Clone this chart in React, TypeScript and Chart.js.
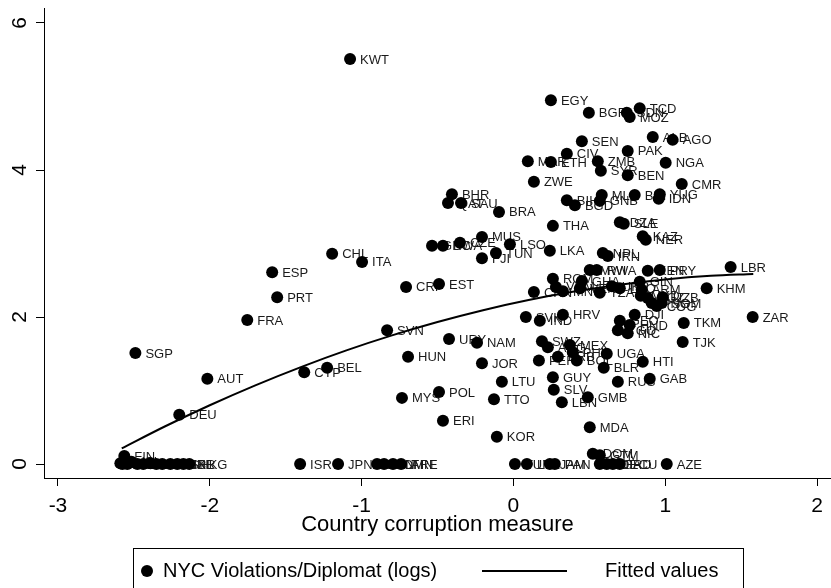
import React, { useEffect, useRef } from "react";
import { Chart, registerables } from "chart.js";

Chart.register(...registerables);

const FONT = "'Liberation Sans', Arial, Helvetica, sans-serif";

const countryCodes = [
  "KWT","EGY","BGR","SDN","TCD","MOZ","SEN","ALB","AGO","PAK",
  "CIV","MAR","ETH","ZMB","SYR","BEN","NGA","ZWE","CMR","BIH",
  "BGD","MLI","GNB","BDI","YUG","IDN","BHR","QAT","SAU","BRA",
  "THA","DZA","SLE","KAZ","NER","MUS","GRC","BWA","CZE","LSO",
  "TUN","FJI","LKA","NPL","IRN","MWI","RWA","KEN","PRY","LBR",
  "KHM","ZAR","CHL","ITA","ESP","PRT","FRA","CRI","EST","SGP",
  "AUT","CYP","BEL","DEU","SVN","URY","NAM","HUN","JOR","LTU",
  "POL","MYS","TTO","ERI","KOR","SVK","IND","HRV","SWZ","ARG",
  "MEX","PHL","BOL","BRB","PER","UGA","BLR","HTI","GUY","RUS",
  "GAB","SLV","GMB","LBN","MDA","TKM","TJK","DJI","GEO","HND",
  "NIC","TGO","ROM","GHA","CHN","VNM","MNG","VEN","TZA","UKR",
  "LAO","GIN","ARM","UZB","COG","KGZ","MKD","PNG","SOM",
  "FIN","DNK","SWE","NZL","ISL","CHE","NOR","NLD","CAN","AUS",
  "LUX","GBR","IRL","HKG","ISR","JPN","BRN","MLT","OMN","ARE",
  "TUR","LVA","JAM","PAN","DOM","GTM","COL","BFA","GRD","ECU","AZE"
];

const corruption = [
  -1.076, 0.247, 0.497, 0.747, 0.832, 0.766, 0.451, 0.918, 1.049, 0.753,
  0.352, 0.095, 0.247, 0.556, 0.576, 0.753, 1.003, 0.135, 1.109, 0.352,
  0.405, 0.582, 0.569, 0.799, 0.964, 0.957, -0.405, -0.431, -0.345, -0.095,
  0.260, 0.701, 0.727, 0.852, 0.872, -0.207, -0.536, -0.464, -0.352, -0.023,
  -0.115, -0.207, 0.240, 0.589, 0.622, 0.503, 0.549, 0.885, 0.964, 1.431,
  1.273, 1.576, -1.194, -0.997, -1.589, -1.556, -1.753, -0.707, -0.490, -2.490,
  -2.016, -1.378, -1.227, -2.201, -0.832, -0.424, -0.240, -0.694, -0.207, -0.076,
  -0.490, -0.734, -0.128, -0.464, -0.109, 0.082, 0.174, 0.326, 0.188, 0.227,
  0.372, 0.391, 0.418, 0.293, 0.168, 0.615, 0.595, 0.852, 0.260, 0.688,
  0.898, 0.266, 0.490, 0.319, 0.503, 1.122, 1.115, 0.799, 0.701, 0.766,
  0.753, 0.688, 0.260, 0.451, 0.135, 0.280, 0.326, 0.438, 0.569, 0.648,
  0.701, 0.832, 0.845, 0.984, 0.944, 0.885, 0.839, 0.911, 0.977,
  -2.563, -2.589, -2.576, -2.543, -2.516, -2.477, -2.438, -2.391, -2.352, -2.313,
  -2.260, -2.214, -2.174, -2.135, -1.405, -1.155, -0.898, -0.852, -0.793, -0.740,
  0.010, 0.089, 0.240, 0.273, 0.523, 0.569, 0.569, 0.615, 0.655, 0.701, 1.010
];

const violations = [
  5.51, 4.95, 4.78, 4.78, 4.84, 4.72, 4.39, 4.45, 4.41, 4.26,
  4.22, 4.12, 4.11, 4.12, 3.99, 3.93, 4.10, 3.84, 3.81, 3.59,
  3.52, 3.66, 3.58, 3.66, 3.67, 3.61, 3.67, 3.55, 3.55, 3.43,
  3.24, 3.29, 3.27, 3.10, 3.05, 3.09, 2.97, 2.97, 3.01, 2.99,
  2.87, 2.80, 2.90, 2.87, 2.83, 2.64, 2.64, 2.63, 2.64, 2.68,
  2.39, 2.00, 2.86, 2.75, 2.61, 2.27, 1.96, 2.41, 2.45, 1.51,
  1.16, 1.25, 1.31, 0.67, 1.82, 1.70, 1.65, 1.46, 1.37, 1.12,
  0.98, 0.90, 0.88, 0.59, 0.37, 2.00, 1.95, 2.03, 1.67, 1.59,
  1.62, 1.52, 1.41, 1.46, 1.41, 1.50, 1.31, 1.39, 1.18, 1.12,
  1.16, 1.01, 0.91, 0.84, 0.50, 1.92, 1.66, 2.03, 1.95, 1.89,
  1.78, 1.82, 2.52, 2.49, 2.34, 2.41, 2.35, 2.39, 2.33, 2.42,
  2.39, 2.48, 2.37, 2.27, 2.15, 2.26, 2.29, 2.19, 2.19,
  0.11, 0.01, 0.00, 0.00, 0.03, 0.00, 0.00, 0.01, 0.00, 0.00,
  0.00, 0.00, 0.00, 0.00, 0.00, 0.00, 0.00, 0.00, 0.00, 0.00,
  0.00, 0.00, 0.00, 0.00, 0.14, 0.12, 0.00, 0.00, 0.00, 0.00, 0.00
];

const fittedX = [-2.58, -2.3, -2.0, -1.7, -1.4, -1.1, -0.8, -0.5, -0.2, 0.1, 0.4, 0.7, 1.0, 1.3, 1.58];
const fittedY = [0.213, 0.507, 0.800, 1.071, 1.319, 1.546, 1.750, 1.932, 2.093, 2.231, 2.346, 2.440, 2.511, 2.560, 2.585];

const xTickValues = [-3, -2, -1, 0, 1, 2];
const yTickValues = [0, 2, 4, 6];

const scatterLabel = "NYC Violations/Diplomat (logs)";
const fitLabel = "Fitted values";
const xTitle = "Country corruption measure";

export default function App() {
  const canvasRef = useRef<HTMLCanvasElement | null>(null);

  useEffect(() => {
    const canvas = canvasRef.current;
    if (!canvas) return;

    const pointLabels = {
      id: "pointLabels",
      beforeDatasetsDraw(chart: any) {
        const meta = chart.getDatasetMeta(0);
        const c = chart.ctx;
        c.save();
        c.font = `13px ${FONT}`;
        c.fillStyle = "#1a1a1a";
        c.textBaseline = "middle";
        c.textAlign = "left";
        meta.data.forEach((el: any, i: number) => {
          c.fillText(countryCodes[i], el.x + 10, el.y + 1);
        });
        c.restore();
      },
    };

    const extras = {
      id: "extras",
      afterDraw(chart: any) {
        const c = chart.ctx;
        const ys = chart.scales.y;
        c.save();
        c.fillStyle = "#000";
        c.font = `21px ${FONT}`;
        c.textAlign = "center";
        c.textBaseline = "middle";
        ys.ticks.forEach((t: any) => {
          const py = ys.getPixelForValue(t.value);
          c.save();
          c.translate(20, py);
          c.rotate(-Math.PI / 2);
          c.fillText(String(t.value), 0, 0);
          c.restore();
        });
        // legend
        c.strokeStyle = "#000";
        c.lineWidth = 1;
        c.strokeRect(133.5, 548.5, 610, 60);
        c.beginPath();
        c.arc(147, 571, 6, 0, Math.PI * 2);
        c.fill();
        c.font = `20px ${FONT}`;
        c.textAlign = "left";
        c.fillText(chart.data.datasets[0].label, 163, 571);
        c.beginPath();
        c.lineWidth = 2;
        c.moveTo(482, 571);
        c.lineTo(567, 571);
        c.stroke();
        c.fillText(chart.data.datasets[1].label, 605, 571);
        c.restore();
      },
    };

    const chart = new Chart(canvas, {
      type: "scatter",
      data: {
        datasets: [
          {
            label: scatterLabel,
            data: corruption.map((x, i) => ({ x, y: violations[i] })),
            backgroundColor: "#000",
            borderColor: "#000",
            borderWidth: 0,
            pointRadius: 6,
            order: 2,
          },
          {
            type: "line",
            label: fitLabel,
            data: fittedX.map((x, i) => ({ x, y: fittedY[i] })),
            borderColor: "#000",
            borderWidth: 2,
            pointRadius: 0,
            showLine: true,
            fill: false,
            cubicInterpolationMode: "monotone",
            order: 1,
          } as any,
        ],
      },
      options: {
        responsive: false,
        animation: false,
        events: [],
        layout: { autoPadding: false, padding: { top: 8, right: 0, bottom: 0, left: 0 } },
        plugins: {
          legend: { display: false },
          tooltip: { enabled: false },
        },
        scales: {
          x: {
            type: "linear",
            min: -3.092,
            max: 2.092,
            afterBuildTicks: (s: any) => {
              s.ticks = xTickValues.map((v) => ({ value: v }));
            },
            afterFit: (s: any) => {
              s.height = 110;
              s.paddingLeft = 0;
              s.paddingRight = 0;
            },
            grid: {
              drawOnChartArea: false,
              drawTicks: true,
              tickLength: 8,
              color: "#000",
              tickColor: "#000",
            },
            border: { display: true, color: "#000", width: 1 },
            ticks: {
              font: { size: 21, family: FONT },
              color: "#000",
              padding: 8,
              maxRotation: 0,
              autoSkip: false,
            },
            title: {
              display: true,
              text: xTitle,
              font: { size: 22, family: FONT },
              color: "#000",
              padding: { top: 0, bottom: 50 },
            },
          },
          y: {
            type: "linear",
            min: -0.19,
            max: 6.204,
            afterBuildTicks: (s: any) => {
              s.ticks = yTickValues.map((v) => ({ value: v }));
            },
            afterFit: (s: any) => {
              s.width = 44;
              s.paddingTop = 0;
              s.paddingBottom = 0;
            },
            grid: {
              drawOnChartArea: false,
              drawTicks: true,
              tickLength: 8,
              color: "#000",
              tickColor: "#000",
            },
            border: { display: true, color: "#000", width: 1 },
            ticks: { display: false },
          },
        },
      },
      plugins: [pointLabels, extras],
    } as any);

    return () => chart.destroy();
  }, []);

  return (
    <div style={{ position: "absolute", left: 0, top: 0, width: 831, height: 588, background: "#fff", overflow: "hidden" }}>
      <canvas ref={canvasRef} width={831} height={588} style={{ display: "block" }} />
    </div>
  );
}
